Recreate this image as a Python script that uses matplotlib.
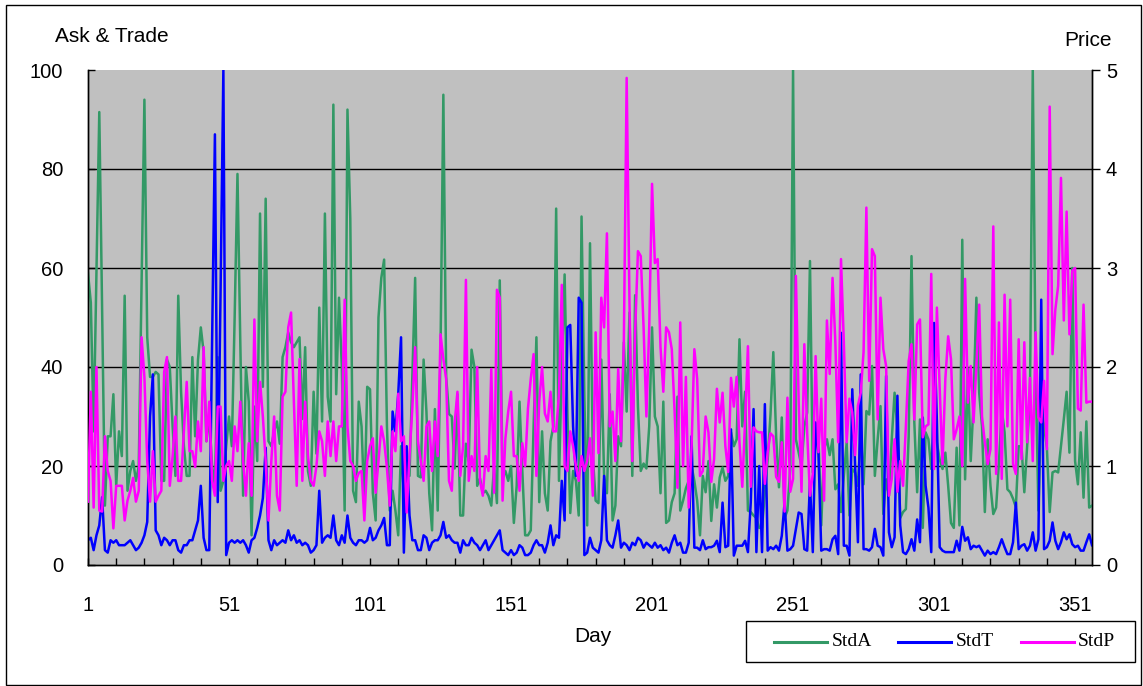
import numpy as np
import matplotlib
matplotlib.use("Agg")
import matplotlib.pyplot as plt
from matplotlib.patches import Rectangle
from matplotlib.lines import Line2D

# ---------------- data ----------------
stdA = [59, 53, 27, 59, 91.5, 52, 12, 26, 26, 34.5,
        16, 27, 22, 54.4, 15, 19, 21, 17, 20, 57,
        94, 46, 38, 38, 39, 38.5, 17, 17, 41.5, 40,
        28, 18, 54.4, 35, 24, 18, 18, 42, 26, 41.5,
        48, 43, 25, 30, 20, 16, 42, 15, 17, 24,
        30, 24, 50, 79, 45, 14, 40, 33, 6, 32,
        21, 71, 36, 74, 25, 24, 27, 29, 24.5, 42,
        44, 47, 45, 44, 45, 46, 29.5, 44, 19, 16,
        35, 22.5, 52, 29, 71, 34, 29, 93, 34.5, 54,
        40, 11, 92, 70, 15, 12.7, 33, 28, 12, 36,
        35.5, 14.5, 9, 50, 58, 61.7, 28, 11, 15, 11,
        6, 24, 14.5, 21, 18, 38, 58, 18, 17.7, 41.5,
        31, 14.5, 7, 31.5, 11, 43.5, 95, 38, 30.5, 30,
        19.5, 34.5, 10, 10, 24.5, 21, 43.5, 40, 16, 17.5,
        14.5, 15, 14, 12, 20, 12.5, 57.5, 17.5, 19, 17,
        20, 8.5, 16, 33, 19, 6, 6, 7, 28, 46,
        12.7, 27, 14.5, 11, 25, 28, 72, 17, 40, 58.7,
        30.5, 10.5, 19, 17, 10, 70.4, 34, 8, 65, 22,
        13, 12.5, 41.5, 18, 14.5, 34.5, 9, 12, 26, 24,
        45, 31, 51, 18, 54.5, 32, 19, 20.5, 19.5, 28,
        48, 30, 28, 14.5, 33, 8.5, 9, 12.7, 14.5, 34,
        11, 13, 15.5, 17, 20, 17, 13, 6, 18, 14.7,
        21, 8.9, 16.3, 11.6, 17.7, 19.7, 17, 18, 26.8, 24,
        25.4, 45.6, 28, 35, 11, 10.7, 10, 9.5, 7.5, 7.5,
        14.7, 21.3, 30.4, 43, 26, 15.7, 29.8, 9.5, 11, 19.4,
        100, 25.4, 22.7, 20, 28, 30.8, 61.4, 18.7, 24, 26,
        8, 23.4, 25.4, 22.2, 25.4, 15.3, 16.3, 10.7, 18, 24.7,
        10, 19.4, 18.7, 16, 26.8, 16.3, 31.1, 30.4, 40.2, 18,
        25.4, 32.1, 10.3, 17.3, 14, 25.4, 34.8, 27.4, 9.5, 10.7,
        11.3, 26, 62.4, 28.8, 14.7, 29.4, 7.5, 26.8, 25.4, 19.4,
        28, 24.7, 21.3, 19.4, 22.7, 16, 8.5, 7.5, 23.7, 8,
        65.7, 17.3, 39.7, 21, 32.8, 54, 34.8, 28, 10.7, 25.4,
        16, 10.3, 11.6, 20.7, 31.5, 26.8, 15.3, 14.7, 13.4, 11.7,
        24, 24, 14.7, 24, 34, 100, 40, 11, 33, 28,
        23.7, 10.7, 18.7, 19, 18.7, 24, 29.4, 35, 22.7, 60,
        21, 16.3, 26.8, 13.6, 29, 11.6, 12]

stdT = [5, 5.5, 3, 6, 8, 13.7, 3, 2.5, 5, 4.5,
        5, 4, 4, 4, 4.5, 5, 4, 3, 3.5, 4.5,
        6, 8.7, 30, 38.5, 7, 6, 4, 5.5, 5, 4,
        5, 5, 3, 2.5, 4, 4, 5, 5, 7, 9,
        16, 5.5, 3, 3, 45, 87, 12.7, 55, 100, 2,
        4.5, 5, 4.5, 5, 4.5, 5, 4, 2.5, 5, 5.5,
        7.5, 10, 13.5, 23.7, 5, 3, 5, 4, 4.5, 5,
        4.5, 7, 5, 6, 4.5, 5, 4, 4.5, 4, 2.5,
        3, 4, 15, 4.5, 5.5, 6, 5.5, 10, 5, 4,
        6, 4.5, 10, 5.5, 4.5, 4, 5, 5, 4.5, 5,
        7.5, 5, 5.5, 7, 8, 9.5, 4, 4, 31, 27,
        34.5, 46, 2.5, 24, 10, 5, 5, 3, 3, 6,
        5.5, 3, 4.5, 5, 5, 6, 8.7, 5.5, 6, 5,
        4.5, 4.5, 2.5, 5, 4, 4, 5.5, 4.5, 4, 3,
        4, 5, 3, 4, 5, 6, 7, 3, 2.5, 2,
        3, 2, 2.5, 4, 3.5, 2, 2, 2.5, 4, 5,
        4, 4, 2.5, 4.5, 8, 4, 6, 5.5, 17, 9,
        48, 48.5, 28, 18, 54, 53, 2, 2.5, 5.5, 3.5,
        3, 2.5, 5, 18, 5, 4, 3.5, 6, 9, 3.5,
        4.5, 4, 3, 4.5, 4, 5.5, 5, 3.5, 4.5, 4,
        3.5, 4.5, 3.5, 4, 3, 3.5, 2.5, 4.5, 6, 4,
        4.5, 2.5, 2.5, 4.5, 26, 3.5, 3.5, 3, 5, 3.2,
        3.6, 3.6, 3.9, 4.9, 2.6, 12.6, 3.6, 3.9, 27.4, 1.9,
        3.9, 3.9, 3.9, 4.9, 2.6, 12.6, 31.5, 2.6, 20, 2.6,
        32.5, 2.9, 3.6, 3.2, 3.9, 2.9, 5.9, 12.6, 2.9, 3.2,
        3.9, 7.3, 10.6, 10.3, 3.2, 2.9, 16.7, 2.6, 28.8, 22.7,
        2.9, 3.2, 3.2, 2.9, 5.2, 5.9, 2.2, 46.9, 3.9, 3.9,
        1.9, 35.5, 20, 4.6, 38.5, 3.2, 3.2, 2.9, 3.6, 7.3,
        3.9, 3.6, 1.9, 38.2, 6.6, 3.6, 5.6, 34.2, 8, 2.6,
        2.2, 3.2, 5.2, 2.9, 9.2, 4.6, 29.8, 16, 11.6, 2.6,
        48.9, 29, 3.6, 2.9, 2.6, 2.6, 2.6, 2.6, 4.9, 2.9,
        7.7, 4.9, 5.6, 3.2, 3.9, 3.6, 3.9, 2.9, 1.9, 2.9,
        2.2, 2.6, 2.2, 3.6, 5.2, 3.6, 2.2, 2.2, 4.6, 12.6,
        3.2, 3.9, 4.2, 2.9, 3.9, 6.6, 2.9, 5.2, 53.6, 3.2,
        3.6, 4.9, 8.6, 4.9, 3.2, 4.6, 6.6, 5.2, 6.2, 4.2,
        3.6, 3.9, 2.9, 2.9, 4.6, 6.2, 4]

stdP = [0.64, 1.75, 0.58, 2.0, 0.55, 0.54, 1.3, 0.95, 0.85, 0.37,
        0.8, 0.8, 0.8, 0.45, 0.65, 0.75, 0.88, 0.64, 0.75, 2.3,
        1.9, 1.05, 0.64, 1.15, 0.64, 0.7, 0.75, 1.95, 2.1, 0.8,
        1.1, 1.5, 0.85, 0.85, 1.35, 1.85, 1.15, 1.15, 0.99, 1.45,
        1.15, 2.2, 1.25, 1.65, 0.85, 0.7, 1.6, 1.6, 0.85, 1.0,
        1.05, 0.85, 1.4, 1.15, 1.65, 1.05, 0.7, 1.23, 0.7, 2.48,
        1.25, 1.85, 1.5, 1.05, 0.45, 1.05, 1.5, 0.7, 0.55, 1.7,
        1.75, 2.4, 2.55, 1.65, 0.8, 2.08, 0.85, 1.65, 1.1, 0.85,
        0.8, 1.0, 1.35, 1.25, 0.9, 1.45, 1.1, 1.45, 1.05, 1.4,
        1.4, 2.68, 1.4, 1.05, 1.0, 0.85, 0.93, 0.95, 0.45, 1.05,
        1.2, 1.28, 0.73, 1.05, 1.4, 1.25, 0.98, 0.6, 1.35, 1.15,
        1.73, 1.25, 1.3, 0.53, 1.1, 1.58, 2.2, 1.25, 1.05, 0.85,
        1.4, 1.45, 0.95, 1.45, 1.1, 2.33, 2.08, 1.88, 0.85, 0.75,
        1.43, 1.75, 0.9, 1.2, 2.88, 0.85, 1.1, 0.95, 2.0, 0.85,
        0.7, 1.1, 0.95, 1.98, 0.73, 2.78, 2.7, 0.65, 1.28, 1.55,
        1.75, 1.1, 1.1, 0.75, 1.23, 1.0, 1.58, 1.88, 2.13, 0.9,
        1.65, 2.0, 1.53, 1.45, 1.75, 1.35, 1.35, 1.73, 2.83, 1.0,
        0.95, 1.35, 1.2, 1.0, 0.85, 1.1, 0.95, 1.05, 1.28, 0.7,
        2.35, 1.13, 2.7, 2.4, 3.35, 1.4, 1.55, 1.05, 1.98, 1.25,
        2.25, 4.92, 2.65, 1.05, 2.35, 3.17, 3.12, 2.4, 1.5, 2.4,
        3.85, 3.05, 3.09, 2.2, 1.75, 2.4, 2.35, 2.18, 1.55, 0.78,
        2.45, 1.0, 1.9, 0.58, 1.18, 2.18, 1.88, 0.9, 0.95, 1.5,
        1.34, 0.84, 1.07, 1.78, 1.44, 1.74, 1.2, 0.94, 1.89, 1.6,
        1.9, 1.24, 0.79, 1.47, 2.21, 0.79, 1.39, 1.35, 1.34, 1.34,
        0.82, 1.14, 1.33, 1.3, 0.89, 0.84, 1.24, 0.54, 1.69, 0.74,
        0.87, 2.92, 1.64, 0.74, 2.23, 1.34, 0.7, 0.92, 2.11, 1.14,
        1.68, 0.65, 2.47, 1.93, 2.9, 2.25, 1.24, 3.09, 2.25, 1.24,
        1.68, 1.54, 1.11, 1.61, 1.74, 2.15, 3.61, 1.86, 3.19, 3.12,
        1.47, 2.7, 2.18, 2.01, 0.7, 0.87, 1.27, 0.74, 1.05, 0.8,
        1.4, 2.06, 2.23, 1.47, 2.43, 2.48, 1.29, 1.4, 1.42, 2.94,
        0.97, 2.6, 1.78, 1.02, 1.88, 2.31, 2.08, 1.27, 1.37, 1.5,
        1.0, 2.89, 1.64, 2.01, 1.44, 2.01, 2.63, 1.5, 1.24, 1.02,
        1.17, 3.42, 0.92, 2.45, 0.87, 2.73, 1.4, 2.68, 1.02, 0.92,
        2.28, 1.07, 2.25, 1.24, 1.89, 1.05, 2.35, 1.49, 1.44, 1.86,
        1.17, 4.63, 2.13, 2.58, 2.82, 3.91, 2.47, 3.57, 2.33, 2.97,
        3.0, 1.58, 1.56, 2.63, 1.64, 1.65, 1.65]

x_tick_labels = ["1", "51", "101", "151", "201", "251", "301", "351"]
left_ticks = [0, 20, 40, 60, 80, 100]
right_ticks = [0, 1, 2, 3, 4, 5]
series_names = ["StdA", "StdT", "StdP"]

# ---------------- figure ----------------
W, H = 1143, 686
fig = plt.figure(figsize=(W / 100, H / 100), dpi=100)
fig.patch.set_facecolor("white")

SANS = ["Liberation Sans", "DejaVu Sans"]
SERIF = ["Liberation Serif", "DejaVu Serif"]
TICK_FS = 14.5
TITLE_FS = 15

L, R, T, B = 88, 1092, 70, 565
ax = fig.add_axes([L / W, 1 - B / H, (R - L) / W, (B - T) / H])
ax.set_facecolor("#c0c0c0")
ax2 = ax.twinx()

dA = np.arange(1, len(stdA) + 1)
dT = np.arange(1, len(stdT) + 1)
dP = np.arange(1, len(stdP) + 1)

GREEN = "#339966"
BLUE = "#0000ff"
MAGENTA = "#ff00ff"
LW = 1.8

lA, = ax.plot(dA, stdA, color=GREEN, lw=LW, zorder=3)
lT, = ax.plot(dT, stdT, color=BLUE, lw=LW, zorder=4)
lP, = ax2.plot(dP, stdP, color=MAGENTA, lw=LW, zorder=3)

xmax = max(len(stdA), len(stdT), len(stdP))
ax.set_xlim(1, xmax)
ax.set_ylim(0, 100)
ax2.set_ylim(0, 5)

major_pos = [int(s) for s in x_tick_labels]
ax.set_xticks(major_pos)
ax.set_xticklabels(x_tick_labels, fontsize=TICK_FS, family=SANS)
ax.set_xticks(list(range(1, xmax + 1, 10)), minor=True)
ax.tick_params(axis="x", which="both", direction="in", length=5, width=1,
               color="black", pad=22)

ax.set_yticks(left_ticks)
ax.set_yticklabels([str(v) for v in left_ticks], fontsize=TICK_FS, family=SANS)
ax.tick_params(axis="y", direction="in", length=5, width=1, pad=18)

ax2.set_yticks(right_ticks)
ax2.set_yticklabels([str(v) for v in right_ticks], fontsize=TICK_FS, family=SANS)
ax2.tick_params(axis="y", direction="out", length=6, width=1, pad=4)

ax.yaxis.grid(True, color="black", lw=1)
ax.set_axisbelow(True)
gl = ax.get_ygridlines()
gl[0].set_visible(False)
gl[-1].set_visible(False)

for a in (ax, ax2):
    a.spines["top"].set_visible(False)
    for s in ("left", "right", "bottom"):
        a.spines[s].set_color("black")
        a.spines[s].set_linewidth(1)
ax2.patch.set_visible(False)

# axis titles
fig.text(112 / W, 1 - 37 / H, "Ask & Trade", fontsize=TITLE_FS, family=SANS,
         ha="center", va="center")
fig.text(1088 / W, 1 - 40 / H, "Price", fontsize=TITLE_FS, family=SANS,
         ha="center", va="center")
fig.text(593 / W, 1 - 636 / H, "Day", fontsize=TITLE_FS, family=SANS,
         ha="center", va="center")

# legend (drawn as a framed box in figure pixels)
def fx(px):
    return px / W

def fy(py):
    return 1 - py / H

fig.patches.append(Rectangle((fx(746), fy(662)), (1135 - 746) / W, (662 - 621) / H,
                             transform=fig.transFigure, fill=True,
                             facecolor="white", edgecolor="black", lw=1, zorder=5))
leg_y = 642
for (x0, x1, xt), line, name in zip([(774, 827, 832), (898, 951, 956), (1021, 1074, 1078)],
                                    [lA, lT, lP], series_names):
    fig.lines.append(Line2D([fx(x0), fx(x1)], [fy(leg_y), fy(leg_y)],
                            transform=fig.transFigure, color=line.get_color(),
                            lw=2.2, zorder=6))
    fig.text(fx(xt), fy(leg_y), name, fontsize=14, family=SERIF,
             ha="left", va="center", zorder=6)

# outer frame
fig.patches.append(Rectangle((6 / W, 1 - 685 / H), (1141 - 6) / W, (685 - 5) / H,
                             transform=fig.transFigure, fill=False,
                             edgecolor="black", lw=1))

fig.savefig("out.png", dpi=100)
